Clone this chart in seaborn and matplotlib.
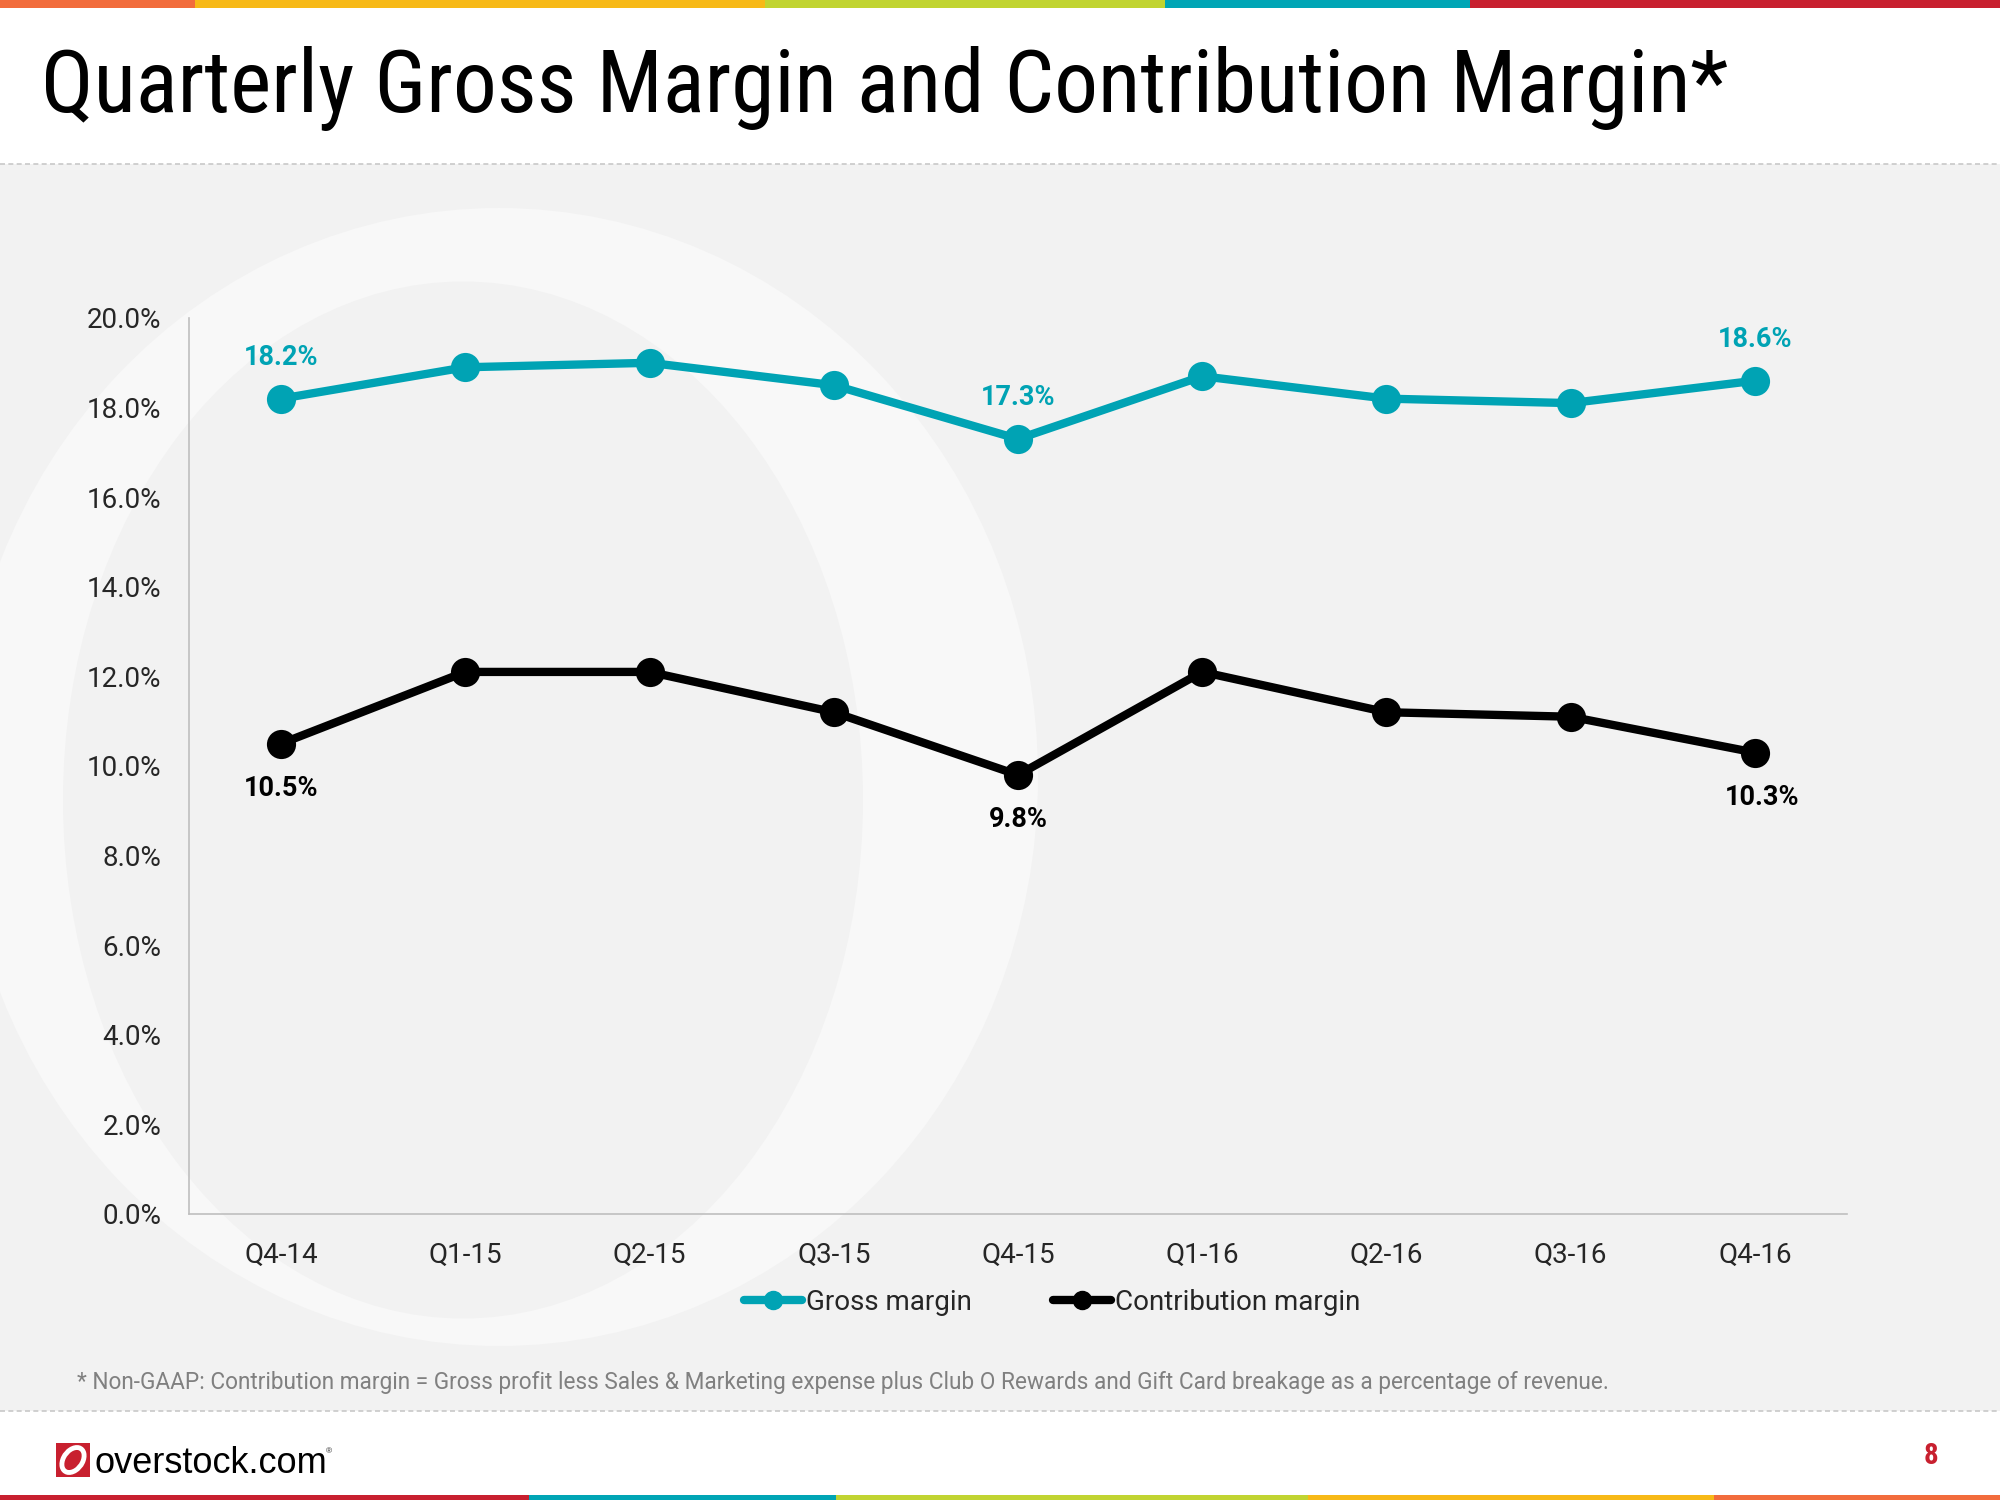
import matplotlib.pyplot as plt
import matplotlib.patches as mpatches
from matplotlib.lines import Line2D
import pandas as pd
import seaborn as sns

quarters = ['Q4-14', 'Q1-15', 'Q2-15', 'Q3-15', 'Q4-15', 'Q1-16', 'Q2-16', 'Q3-16', 'Q4-16']
gross_margin = [18.2, 18.9, 19.0, 18.5, 17.3, 18.7, 18.2, 18.1, 18.6]
contribution_margin = [10.5, 12.1, 12.1, 11.2, 9.8, 12.1, 11.2, 11.1, 10.3]
series_names = ['Gross margin', 'Contribution margin']
series_colors = ['#00a3b4', '#000000']
yticks = [0, 2, 4, 6, 8, 10, 12, 14, 16, 18, 20]
labelled_points = [0, 4, 8]

title = 'Quarterly Gross Margin and Contribution Margin*'
footnote = ('* Non-GAAP: Contribution margin = Gross profit less Sales & Marketing expense '
            'plus Club O Rewards and Gift Card breakage as a percentage of revenue.')

sns.set_style('white')
narrow = ['Roboto Condensed', 'Archivo Narrow', 'Liberation Sans', 'DejaVu Sans']
plt.rcParams['font.family'] = ['Roboto', 'Liberation Sans', 'DejaVu Sans']

W, H = 2000, 1500


def fx(x):
    return x / W


def fy(y):
    return 1 - y / H


fig = plt.figure(figsize=(20, 15), dpi=100)
fig.patch.set_facecolor('white')

# slide background
fig.add_artist(mpatches.Rectangle((0, fy(1411)), 1, (1411 - 164) / H, transform=fig.transFigure,
                                  facecolor='#f2f2f2', edgecolor='none', zorder=0))
# watermark "O"
fig.add_artist(mpatches.Ellipse((fx(499), fy(777)), 1078 / W, 1138 / H, transform=fig.transFigure,
                                facecolor='#f8f8f8', edgecolor='none', zorder=0))
fig.add_artist(mpatches.Ellipse((fx(463), fy(800)), 800 / W, 1037 / H, transform=fig.transFigure,
                                facecolor='#f2f2f2', edgecolor='none', zorder=0))

# dashed separators
for yy in [164, 1411]:
    fig.add_artist(Line2D([0, 1], [fy(yy), fy(yy)], transform=fig.transFigure,
                          color='#c8c8c8', lw=1.2, ls=(0, (3, 2)), zorder=1))

# colour bars
top_bars = [(0, 195, '#f26c3c'), (195, 765, '#f7b917'), (765, 1165, '#c1d431'),
            (1165, 1470, '#00a5b5'), (1470, 2000, '#c8202f')]
for x0, x1, c in top_bars:
    fig.add_artist(mpatches.Rectangle((fx(x0), fy(8)), (x1 - x0) / W, 8 / H, transform=fig.transFigure,
                                      facecolor=c, edgecolor='none', zorder=2))
bottom_bars = [(0, 529, '#c8202f'), (529, 836, '#00a5b5'), (836, 1308, '#c1d431'),
               (1308, 1714, '#f7b917'), (1714, 2000, '#f26c3c')]
for x0, x1, c in bottom_bars:
    fig.add_artist(mpatches.Rectangle((fx(x0), 0), (x1 - x0) / W, 5 / H, transform=fig.transFigure,
                                      facecolor=c, edgecolor='none', zorder=2))

ax = fig.add_axes([fx(189), fy(1214), (1847 - 189) / W, (1214 - 318) / H])
ax.set_facecolor('none')

df = pd.DataFrame({'quarter': quarters * 2,
                   'value': gross_margin + contribution_margin,
                   'series': [series_names[0]] * len(quarters) + [series_names[1]] * len(quarters)})

for name, color in zip(series_names, series_colors):
    sub = df[df['series'] == name]
    sns.lineplot(data=sub, x='quarter', y='value', sort=False, color=color, lw=6,
                 marker='o', markersize=21, markeredgewidth=0, ax=ax, legend=False, zorder=3)

for i in labelled_points:
    ax.annotate(f'{gross_margin[i]:.1f}%', (i, gross_margin[i]), xytext=(0, 29.5),
                textcoords='offset points', ha='center', va='center',
                color=series_colors[0], fontsize=19.5, fontweight='bold')
    dx = 5 if i == len(quarters) - 1 else 0
    ax.annotate(f'{contribution_margin[i]:.1f}%', (i, contribution_margin[i]), xytext=(dx, -32),
                textcoords='offset points', ha='center', va='center',
                color='black', fontsize=19.5, fontweight='bold')

ax.set_xlim(-0.5, len(quarters) - 0.5)
ax.set_ylim(0, 20)
ax.set_yticks(yticks)
ax.set_yticklabels([f'{v:.1f}%' for v in yticks])
ax.set_xlabel('')
ax.set_ylabel('')
ax.set_xticks(range(len(quarters)))
ax.set_xticklabels(quarters)
ax.set_xticks([i - 0.5 for i in range(len(quarters) + 1)], minor=True)
ax.tick_params(axis='x', which='major', length=0, pad=20, labelsize=20)
ax.tick_params(axis='x', which='minor', length=6, width=1.2, color='#bfbfbf', direction='out')
ax.tick_params(axis='y', length=10, width=1.2, color='#bfbfbf', direction='out', pad=10, labelsize=20)
ax.grid(False)
for side in ['top', 'right']:
    ax.spines[side].set_visible(False)
for side in ['left', 'bottom']:
    ax.spines[side].set_color('#bfbfbf')
    ax.spines[side].set_linewidth(1.2)

handles = [Line2D([], [], color=c, lw=6, marker='o', markersize=13) for c in series_colors]
fig.legend(handles, series_names, loc='center', bbox_to_anchor=(fx(1052), fy(1302)), ncol=2,
           frameon=False, fontsize=20, handlelength=2.1, handletextpad=0.15, columnspacing=2.9)

fig.text(fx(41), fy(112), title, family=narrow, fontsize=63, va='baseline', ha='left', color='black')
fig.text(fx(77), fy(1382), footnote, fontsize=16.3, va='center', ha='left', color='#808080')

# logo
fig.add_artist(mpatches.Rectangle((fx(56), fy(1477)), 34 / W, 34 / H, transform=fig.transFigure,
                                  facecolor='#c8202f', edgecolor='none', zorder=3))
fig.add_artist(mpatches.Ellipse((fx(73), fy(1460)), 20 / W, 26 / H, angle=-20, transform=fig.transFigure,
                                facecolor='none', edgecolor='white', lw=3.5, zorder=4))
fig.text(fx(94), fy(1473), 'overstock.com', family=['Liberation Sans', 'DejaVu Sans'], fontsize=26,
         va='baseline', ha='left', color='black')
fig.text(fx(326), fy(1452), '®', family=['Liberation Sans', 'DejaVu Sans'], fontsize=6, va='center', ha='left')
fig.text(fx(1931), fy(1456), '8', family=narrow, fontsize=21, fontweight='bold', color='#c8202f',
         va='center', ha='center')

fig.savefig('out.png', dpi=100)
